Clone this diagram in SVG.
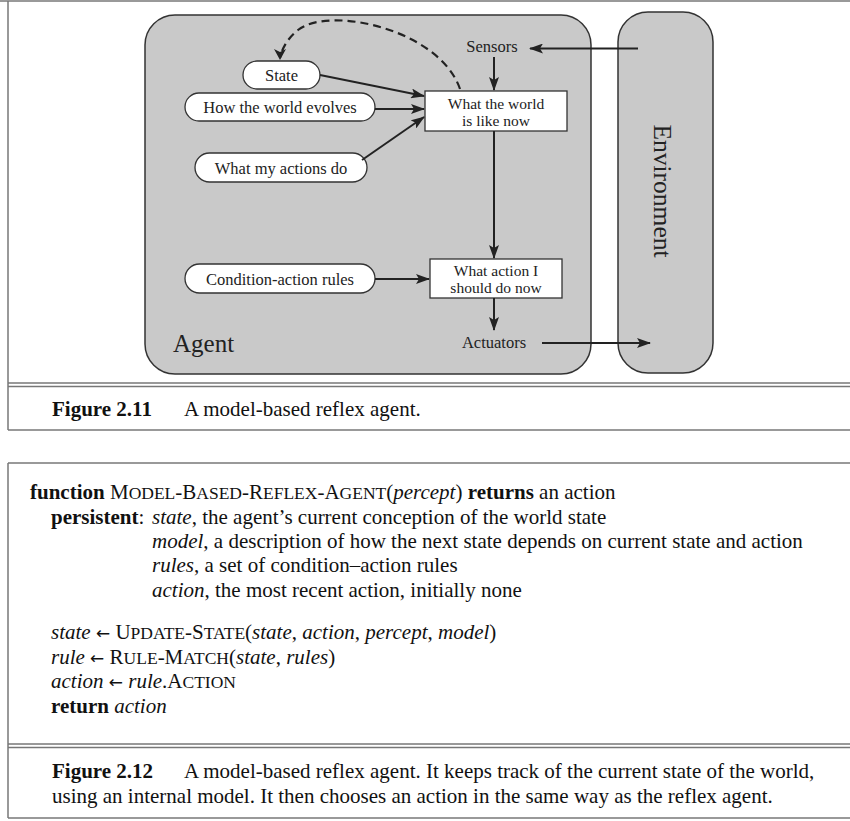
<svg xmlns="http://www.w3.org/2000/svg" width="850" height="821" viewBox="0 0 850 821">
<style>
.frame{fill:none;stroke:#777;stroke-width:1.5}
.box{fill:#c9c9c9;stroke:#333;stroke-width:1.5}
.oval{fill:#fff;stroke:#333;stroke-width:1.3}
.rect{fill:#fff;stroke:#333;stroke-width:1.3}
.lbl{font-family:"Liberation Serif","Times New Roman",serif;font-size:16.5px;fill:#222;text-anchor:middle}
.lb2{font-family:"Liberation Serif","Times New Roman",serif;font-size:15.5px;fill:#222;text-anchor:middle}
.edge{fill:none;stroke:#222;stroke-width:2}
.dash{fill:none;stroke:#222;stroke-width:2.2;stroke-dasharray:8,5}
.t{font-family:"Liberation Serif","Times New Roman",serif;font-size:21px;fill:#111}
.b{font-weight:bold}
.i{font-style:italic}
.s{font-size:17.5px}
.ar{font-family:"DejaVu Sans",sans-serif;font-size:17px}
</style>
<defs>
<marker id="ah" viewBox="0 0 14 10" refX="13" refY="5" markerWidth="14" markerHeight="10" markerUnits="userSpaceOnUse" orient="auto">
<path d="M0,0 L14,5 L0,10 L3,5 z" fill="#222"/>
</marker>
</defs>
<rect width="850" height="821" fill="#fff"/>
<g id="frames">
<line x1="0" y1="1" x2="850" y2="1" class="frame"/>
<line x1="8" y1="1" x2="8" y2="430" class="frame"/>
<line x1="8" y1="383" x2="850" y2="383" class="frame"/>
<line x1="8" y1="386.5" x2="850" y2="386.5" class="frame"/>
<line x1="8" y1="430" x2="850" y2="430" class="frame"/>
<line x1="8" y1="463" x2="850" y2="463" class="frame"/>
<line x1="8" y1="463" x2="8" y2="818" class="frame"/>
<line x1="8" y1="744" x2="850" y2="744" class="frame"/>
<line x1="8" y1="747.5" x2="850" y2="747.5" class="frame"/>
<line x1="8" y1="818" x2="850" y2="818" class="frame"/>
</g>
<g id="agent">
<rect x="145" y="15" width="446" height="359" rx="30" ry="30" class="box"/>
<text x="173" y="352" font-family="Liberation Serif,serif" font-size="25" fill="#222">Agent</text>
</g>
<g id="environment">
<rect x="618" y="12" width="95" height="361" rx="30" ry="30" class="box"/>
<text transform="translate(654,191) rotate(90)" font-family="Liberation Serif,serif" font-size="25.5" fill="#222" text-anchor="middle">Environment</text>
</g>
<g id="sensors"><text x="492" y="52" class="lbl">Sensors</text></g>
<g id="actuators"><text x="494" y="348" class="lbl">Actuators</text></g>
<g id="state">
<rect x="243" y="61" width="77" height="28" rx="14" class="oval"/>
<text x="281.5" y="80.5" class="lbl">State</text>
</g>
<g id="evolves">
<rect x="185" y="93" width="190" height="28" rx="14" class="oval"/>
<text x="280" y="112.5" class="lbl">How the world evolves</text>
</g>
<g id="actions">
<rect x="195" y="153" width="172" height="29" rx="14.5" class="oval"/>
<text x="281" y="173.5" class="lbl">What my actions do</text>
</g>
<g id="rules">
<rect x="185" y="264" width="190" height="29" rx="14.5" class="oval"/>
<text x="280" y="284.5" class="lbl">Condition-action rules</text>
</g>
<g id="world">
<rect x="425" y="91" width="142" height="40" class="rect"/>
<text x="496" y="108.5" class="lb2">What the world</text>
<text x="496" y="125.5" class="lb2">is like now</text>
</g>
<g id="decide">
<rect x="430" y="259" width="132" height="39" class="rect"/>
<text x="496" y="275.5" class="lb2">What action I</text>
<text x="496" y="292.5" class="lb2">should do now</text>
</g>
<g id="connectors">
<line x1="638" y1="48.5" x2="530" y2="48.5" class="edge" marker-end="url(#ah)"/>
<line x1="494" y1="57" x2="494" y2="90" class="edge" marker-end="url(#ah)"/>
<line x1="320" y1="75" x2="424" y2="96" class="edge" marker-end="url(#ah)"/>
<line x1="375" y1="109" x2="424" y2="109" class="edge" marker-end="url(#ah)"/>
<line x1="362" y1="160" x2="424" y2="117" class="edge" marker-end="url(#ah)"/>
<path d="M460,89 C440,30 330,5 298,30 C288,38 282,48 280,58" class="dash"/>
<path d="M274,49 L280,60 L286,49 L280,52 z" fill="#222"/>
<line x1="494" y1="131" x2="494" y2="258" class="edge" marker-end="url(#ah)"/>
<line x1="375" y1="279" x2="429" y2="279" class="edge" marker-end="url(#ah)"/>
<line x1="494" y1="298" x2="494" y2="330" class="edge" marker-end="url(#ah)"/>
<line x1="542" y1="343" x2="650" y2="343" class="edge" marker-end="url(#ah)"/>
</g>
<g id="caption1">
<text x="52" y="416" class="t"><tspan class="b">Figure 2.11</tspan><tspan x="184">A model-based reflex agent.</tspan></text>
</g>
<g id="algorithm">
<text x="30" y="499" class="t"><tspan class="b">function</tspan> M<tspan class="s">ODEL</tspan>-B<tspan class="s">ASED</tspan>-R<tspan class="s">EFLEX</tspan>-A<tspan class="s">GENT</tspan>(<tspan class="i">percept</tspan>) <tspan class="b">returns</tspan> an action</text>
<text x="51" y="524" class="t"><tspan class="b">persistent</tspan>: <tspan x="152" class="i">state</tspan>, the agent’s current conception of the world state</text>
<text x="152" y="548" class="t"><tspan class="i">model</tspan>, a description of how the next state depends on current state and action</text>
<text x="152" y="572" class="t"><tspan class="i">rules</tspan>, a set of condition–action rules</text>
<text x="152" y="597" class="t"><tspan class="i">action</tspan>, the most recent action, initially none</text>
<text x="51" y="639" class="t"><tspan class="i">state</tspan> <tspan class="ar">←</tspan> U<tspan class="s">PDATE</tspan>-S<tspan class="s">TATE</tspan>(<tspan class="i">state</tspan>, <tspan class="i">action</tspan>, <tspan class="i">percept</tspan>, <tspan class="i">model</tspan>)</text>
<text x="51" y="664" class="t"><tspan class="i">rule</tspan> <tspan class="ar">←</tspan> R<tspan class="s">ULE</tspan>-M<tspan class="s">ATCH</tspan>(<tspan class="i">state</tspan>, <tspan class="i">rules</tspan>)</text>
<text x="51" y="688" class="t"><tspan class="i">action</tspan> <tspan class="ar">←</tspan> <tspan class="i">rule</tspan>.A<tspan class="s">CTION</tspan></text>
<text x="51" y="713" class="t"><tspan class="b">return</tspan> <tspan class="i">action</tspan></text>
</g>
<g id="caption2">
<text x="52" y="778" class="t"><tspan class="b">Figure 2.12</tspan><tspan x="184">A model-based reflex agent. It keeps track of the current state of the world,</tspan></text>
<text x="52" y="803" class="t">using an internal model. It then chooses an action in the same way as the reflex agent.</text>
</g>
</svg>
